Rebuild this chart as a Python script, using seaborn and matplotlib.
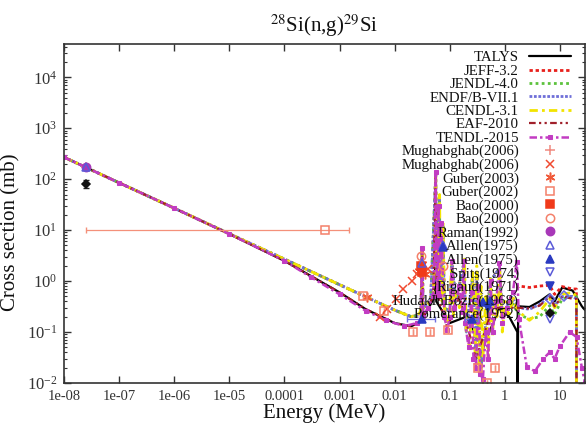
"""Capture cross section of 28Si(n,g)29Si: evaluations, TALYS and measurements."""
import matplotlib
matplotlib.use("Agg")
import matplotlib.pyplot as plt
import seaborn as sns
from matplotlib.ticker import FixedLocator, FixedFormatter, LogLocator, NullFormatter, LogFormatterMathtext

# ---- evaluated / calculated curves (energy in MeV, cross section in mb) ----
talys_e = [1e-8, 1e-7, 1e-6, 1e-5, 1e-4, 1e-3, 3e-3, 1e-2, 2e-2, 0.03, 0.054, 0.0555, 0.057,
           0.1, 0.2, 0.4, 0.8, 1.2, 1.69, 1.7, 1.75, 2.8, 4.3, 6.5, 8.0, 11.0, 17.0, 25.0, 28.5]
talys_xs = [270, 85, 27, 8.4, 2.5, 0.6, 0.28, 0.15, 0.13, 0.16, 0.5, 100, 0.4,
            0.15, 0.2, 0.05, 0.3, 0.2, 0.1, 0.004, 0.32, 0.31, 0.4, 0.55, 0.4, 0.75, 0.65, 0.32, 0.27]

jeff_e = [1e-8, 1e-7, 1e-6, 1e-5, 1e-4, 1e-3, 3e-3, 1e-2, 2e-2, 0.03, 0.0315, 0.033, 0.045,
          0.0557, 0.058, 0.065, 0.068, 0.075, 0.08, 0.1, 0.11, 0.13, 0.18, 0.2, 0.26, 0.3,
          0.31, 0.37, 0.5, 0.55, 0.8, 0.9, 1.3, 1.8, 2.8, 4.3, 6.5, 8.0, 11.0, 17.0, 19.9, 20.0]
jeff_xs = [270, 85, 27, 8.5, 2.7, 0.85, 0.49, 0.27, 0.2, 0.22, 4.0, 0.3, 0.4,
           120, 1.0, 40, 0.5, 12, 0.3, 0.25, 2.0, 0.4, 2.2, 0.1, 1.2, 0.03,
           1.5, 0.02, 0.4, 1.0, 1.8, 0.2, 0.5, 0.8, 0.75, 0.8, 0.83, 0.55, 0.78, 0.7, 0.7, 0.005]

jendl_e = [1e-8, 1e-7, 1e-6, 1e-5, 1e-4, 1e-3, 3e-3, 1e-2, 2e-2, 0.03, 0.0315, 0.033, 0.045,
           0.0557, 0.058, 0.065, 0.068, 0.075, 0.08, 0.1, 0.11, 0.13, 0.18, 0.2, 0.26, 0.3,
           0.31, 0.37, 0.5, 0.55, 0.8, 0.9, 1.3, 1.8, 2.8, 4.3, 6.5, 8.0, 11.0, 17.0, 19.9, 20.0]
jendl_xs = [270, 85, 27, 8.5, 2.7, 0.85, 0.49, 0.27, 0.2, 0.22, 4.0, 0.3, 0.4,
            120, 1.0, 40, 0.5, 12, 0.3, 0.25, 2.0, 0.4, 2.2, 0.1, 1.2, 0.03,
            1.5, 0.02, 0.4, 1.0, 1.8, 0.2, 0.4, 0.22, 0.18, 0.2, 0.33, 0.22, 0.45, 0.5, 0.5, 0.005]

endf_e = [1e-8, 1e-7, 1e-6, 1e-5, 1e-4, 1e-3, 3e-3, 1e-2, 2e-2, 0.03, 0.0315, 0.033, 0.045,
          0.0557, 0.058, 0.065, 0.068, 0.075, 0.08, 0.1, 0.11, 0.13, 0.18, 0.2, 0.26, 0.3,
          0.31, 0.37, 0.5, 0.55, 0.8, 0.9, 1.3, 1.8, 2.8, 4.3, 6.5, 8.0, 11.0, 17.0, 19.9, 20.0]
endf_xs = [270, 85, 27, 8.5, 2.7, 0.85, 0.49, 0.27, 0.2, 0.22, 4.0, 0.3, 0.4,
           120, 1.0, 40, 0.5, 12, 0.3, 0.25, 2.0, 0.4, 2.2, 0.1, 1.2, 0.03,
           1.5, 0.02, 0.4, 1.0, 1.8, 0.2, 0.5, 0.3, 0.28, 0.35, 0.5, 0.33, 0.5, 0.5, 0.45, 0.005]

cendl_e = [1e-8, 1e-7, 1e-6, 1e-5, 1e-4, 1e-3, 3e-3, 1e-2, 2e-2, 0.028, 0.031, 0.0315, 0.032,
           0.04, 0.05, 0.054, 0.0557, 0.0575, 0.062, 0.0655, 0.068, 0.073, 0.076, 0.08, 0.09,
           0.1, 0.108, 0.115, 0.13, 0.15, 0.17, 0.185, 0.2, 0.23, 0.26, 0.29, 0.31, 0.34, 0.37,
           0.4, 0.45, 0.5, 0.55, 0.6, 0.65, 0.72, 0.8, 0.9, 1.0, 1.2, 1.4, 1.6, 1.8, 2.8, 4.3,
           6.5, 8.0, 11.0, 17.0, 19.9, 20.0]
cendl_xs = [270, 85, 27, 8.5, 2.7, 0.85, 0.49, 0.27, 0.2, 0.23, 0.3, 4.0, 0.3,
            0.35, 0.5, 3.0, 110, 2.0, 0.6, 50, 0.5, 0.4, 14, 0.3, 0.15,
            0.25, 2.5, 0.2, 0.6, 0.3, 0.4, 2.7, 0.1, 0.05, 1.5, 0.04, 2.0, 0.02, 0.8,
            0.03, 0.5, 0.03, 1.2, 0.08, 0.6, 0.2, 2.0, 0.1, 0.4, 0.2, 0.5, 0.3, 0.25, 0.17, 0.25,
            0.45, 0.3, 0.55, 0.6, 0.5, 0.005]

eaf_e = [1e-8, 1e-7, 1e-6, 1e-5, 1e-4, 1e-3, 3e-3, 1e-2, 2e-2, 0.03, 0.0315, 0.033, 0.05,
         0.0557, 0.058, 0.09, 0.15, 0.3, 0.6, 1.0, 1.8, 2.8, 4.3, 6.5, 8.0, 11.0, 17.0, 19.9, 20.0]
eaf_xs = [270, 85, 27, 8.4, 2.5, 0.6, 0.28, 0.15, 0.13, 0.16, 4.0, 0.2, 0.5,
          130, 0.6, 0.12, 0.5, 0.03, 0.3, 0.3, 0.3, 0.29, 0.33, 0.5, 0.32, 0.5, 0.45, 0.45, 0.005]

tendl_e = [1e-8, 1e-7, 1e-6, 1e-5, 1e-4, 3e-4, 1e-3, 3e-3, 7e-3, 1.5e-2, 0.025, 0.03, 0.0315,
           0.033, 0.04, 0.05, 0.054, 0.0555, 0.057, 0.06, 0.063, 0.065, 0.07, 0.08, 0.09,
           0.1, 0.11, 0.12, 0.15, 0.17, 0.18, 0.19, 0.22, 0.25, 0.27, 0.3, 0.33, 0.36, 0.4,
           0.45, 0.5, 0.55, 0.6, 0.7, 0.8, 0.9, 1.1, 1.4, 1.65, 1.8, 2.5, 3.5, 5.0, 6.5, 8.0,
           10.0, 15.0, 20.0, 25.0, 28.5]
tendl_xs = [270, 85, 27, 8.4, 2.5, 1.2, 0.55, 0.26, 0.17, 0.13, 0.15, 0.17, 4.5,
            0.2, 0.3, 0.5, 5.0, 140, 3.0, 0.6, 30, 0.5, 14, 0.2, 0.11,
            0.2, 2.5, 0.3, 0.8, 0.25, 2.5, 0.15, 0.05, 0.6, 0.03, 0.02, 0.8, 0.015, 0.012,
            0.1, 0.03, 1.0, 0.1, 0.4, 2.3, 0.15, 0.3, 0.6, 2.4, 0.18, 0.021, 0.017, 0.03, 0.04, 0.03,
            0.053, 0.1, 0.08, 0.02, 0.01]

# ---- measurements ----
mugh_plus_e = [2.53e-8]
mugh_plus_xs = [177]
mugh_x_e = [0.0055, 0.0073, 0.0105, 0.014, 0.021, 0.025, 0.033, 0.04]
mugh_x_xs = [0.2, 0.28, 0.45, 0.7, 1.0, 1.35, 1.5, 1.7]
guber03_e = [0.0032, 0.028, 0.031, 0.036]
guber03_xs = [0.49, 1.6, 2.2, 1.4]
guber02_e = [5.5e-4, 0.0027, 0.0065, 0.0216, 0.044, 0.093, 0.32, 0.47, 0.66]
guber02_xs = [10, 0.5, 0.26, 0.1, 0.1, 0.11, 0.02, 0.01, 0.02]
guber02_elo = [2.5e-8, 0.0027, 0.0065, 0.0216, 0.044, 0.093, 0.32, 0.47, 0.66]
guber02_ehi = [1.5e-3, 0.0027, 0.0065, 0.0216, 0.044, 0.093, 0.32, 0.47, 0.66]
bao_sq_e = [0.030, 0.031]
bao_sq_xs = [2.0, 1.5]
bao_ci_e = [0.030, 0.075]
bao_ci_xs = [3.1, 2.0]
raman_e = [2.53e-8]
raman_xs = [177]
allen_open_e = [2.53e-8, 0.032, 0.074]
allen_open_xs = [170, 2.3, 5.0]
allen_fill_e = [0.032, 0.075, 0.25, 0.4, 0.53]
allen_fill_xs = [0.18, 4.6, 0.18, 0.39, 0.4]
allen_fill_elo = [0.0165, 0.075, 0.19, 0.4, 0.53]
allen_fill_ehi = [0.055, 0.075, 0.32, 0.4, 0.53]
spits_e = [6.5]
spits_xs = [0.18]
rigaud_e = [0.5]
rigaud_xs = [0.3]
hudak_e = [12.0]
hudak_xs = [0.5]
pomerance_e = [2.53e-8]
pomerance_xs = [82]
pomerance_err = [15]

x_ticks = [1e-8, 1e-7, 1e-6, 1e-5, 1e-4, 1e-3, 1e-2, 1e-1, 1, 10]
x_tick_labels = ["1e-08", "1e-07", "1e-06", "1e-05", "0.0001", "0.001", "0.01", "0.1", "1", "10"]


def setup_style():
    sns.set_theme(style="ticks")
    plt.rcParams.update({
        "font.family": ["Liberation Serif", "DejaVu Serif"],
        "mathtext.fontset": "stix",
        "axes.edgecolor": "#333333",
        "axes.linewidth": 1.2,
        "xtick.direction": "in",
        "ytick.direction": "in",
        "xtick.top": True,
        "ytick.right": True,
        "xtick.color": "#333333",
        "ytick.color": "#333333",
        "text.color": "#111111",
        "axes.labelcolor": "#111111",
    })


def curve(ax, e, xs, label, color, ls, lw=1.8, **kw):
    sns.lineplot(x=e, y=xs, ax=ax, color=color, linestyle=ls, lw=lw, label=label,
                 sort=False, estimator=None, **kw)


def points(ax, e, xs, label, color, marker, ms=5.5, filled=True, mew=1.1):
    sns.lineplot(x=e, y=xs, ax=ax, color=color, linestyle="", marker=marker, ms=ms,
                 mfc=color if filled else "none", mec=color, mew=mew, label=label,
                 sort=False, estimator=None)


def main():
    setup_style()
    fig = plt.figure(figsize=(5.87, 4.28), dpi=100)
    ax = fig.add_axes([64 / 587, 1 - 383 / 428, (585 - 64) / 587, (383 - 44) / 428])
    ax.set_xscale("log")
    ax.set_yscale("log")

    curve(ax, talys_e, talys_xs, "TALYS", "black", "-", lw=1.6)
    curve(ax, jeff_e, jeff_xs, "JEFF-3.2", "#e8201c", (0, (1.2, 1.0)), lw=2.0)
    curve(ax, jendl_e, jendl_xs, "JENDL-4.0", "#5cc23c", (0, (1.0, 1.2)), lw=2.0)
    curve(ax, endf_e, endf_xs, "ENDF/B-VII.1", "#6f6fd8", (0, (1.0, 0.6)), lw=2.0)
    curve(ax, cendl_e, cendl_xs, "CENDL-3.1", "#f2e400", (0, (3, 1.5, 1, 1.5)), lw=2.0)
    curve(ax, eaf_e, eaf_xs, "EAF-2010", "#a0202a", (0, (3, 1.5, 1, 1.5, 1, 1.5)), lw=1.6)
    curve(ax, tendl_e, tendl_xs, "TENDL-2015", "#c23cc2", (0, (3, 1.2, 1, 1.2)), lw=1.8,
          marker="s", ms=2.2, mec="#c23cc2")

    ax.errorbar(guber02_e, guber02_xs,
                xerr=[[e - lo for e, lo in zip(guber02_e, guber02_elo)],
                      [hi - e for e, hi in zip(guber02_e, guber02_ehi)]],
                fmt="none", ecolor="#f4907a", elinewidth=0.9, capsize=2.5, ls="-.")
    ax.errorbar(allen_fill_e, allen_fill_xs,
                xerr=[[e - lo for e, lo in zip(allen_fill_e, allen_fill_elo)],
                      [hi - e for e, hi in zip(allen_fill_e, allen_fill_ehi)]],
                fmt="none", ecolor="#7070e0", elinewidth=0.9, capsize=2.5)
    ax.errorbar(pomerance_e, pomerance_xs, yerr=pomerance_err, fmt="none",
                ecolor="#222222", elinewidth=0.9, capsize=2.5)

    points(ax, mugh_plus_e, mugh_plus_xs, "Mughabghab(2006)", "#f08a80", "+", ms=7)
    points(ax, mugh_x_e, mugh_x_xs, "Mughabghab(2006)", "#f04a30", "x", ms=6)
    points(ax, guber03_e, guber03_xs, "Guber(2003)", "#f05a3a", (6, 2, 0), ms=7)
    points(ax, guber02_e, guber02_xs, "Guber(2002)", "#f4806a", "s", ms=6, filled=False)
    points(ax, bao_sq_e, bao_sq_xs, "Bao(2000)", "#f03a1a", "s", ms=5.5)
    points(ax, bao_ci_e, bao_ci_xs, "Bao(2000)", "#f4806a", "o", ms=6, filled=False)
    points(ax, raman_e, raman_xs, "Raman(1992)", "#a838b8", "o", ms=6)
    points(ax, allen_open_e, allen_open_xs, "Allen(1975)", "#5a5ad8", "^", ms=6, filled=False)
    points(ax, allen_fill_e, allen_fill_xs, "Allen(1975)", "#2a3ac0", "^", ms=6)
    points(ax, spits_e, spits_xs, "Spits(1974)", "#5a5ad8", "v", ms=6, filled=False)
    points(ax, rigaud_e, rigaud_xs, "Rigaud(1971)", "#2a3ac0", "v", ms=6)
    points(ax, hudak_e, hudak_xs, "HudakInBozic(1968)", "#6a6ae0", "D", ms=5, filled=False)
    points(ax, pomerance_e, pomerance_xs, "Pomerance(1952)", "#111111", "D", ms=4.5)

    ax.set_xlim(1e-8, 28.5)
    ax.set_ylim(1e-2, 4.5e4)
    ax.xaxis.set_major_locator(FixedLocator(x_ticks))
    ax.xaxis.set_major_formatter(FixedFormatter(x_tick_labels))
    ax.xaxis.set_minor_locator(FixedLocator([]))
    ax.yaxis.set_major_locator(LogLocator(base=10, numticks=20))
    ax.yaxis.set_major_formatter(LogFormatterMathtext())
    ax.yaxis.set_minor_locator(LogLocator(base=10, subs=(2, 3, 4, 5, 6, 7, 8, 9), numticks=20))
    ax.yaxis.set_minor_formatter(NullFormatter())
    ax.tick_params(which="major", length=5, width=1.0, labelsize=10.5, pad=5)
    ax.tick_params(axis="y", which="major", labelsize=12)
    ax.tick_params(which="minor", length=2.5, width=0.8)

    ax.set_xlabel("Energy (MeV)", fontsize=15, labelpad=0)
    ax.set_ylabel("Cross section (mb)", fontsize=15)
    ax.yaxis.set_label_coords(-0.084, 0.445)
    ax.set_title(r"$^{28}$Si(n,g)$^{29}$Si", fontsize=15, pad=9)

    handles, labels = ax.get_legend_handles_labels()
    leg = ax.legend(handles, labels, loc="upper right", bbox_to_anchor=(571 / 587, 1 - 51 / 428),
                    bbox_transform=fig.transFigure, frameon=False, markerfirst=False,
                    fontsize=10.7, handlelength=2.8, handletextpad=0.7, labelspacing=0.0,
                    borderpad=0, borderaxespad=0, numpoints=1)
    leg.set_zorder(5)

    fig.savefig("out.png", dpi=100)
    plt.close(fig)


if __name__ == "__main__":
    main()
